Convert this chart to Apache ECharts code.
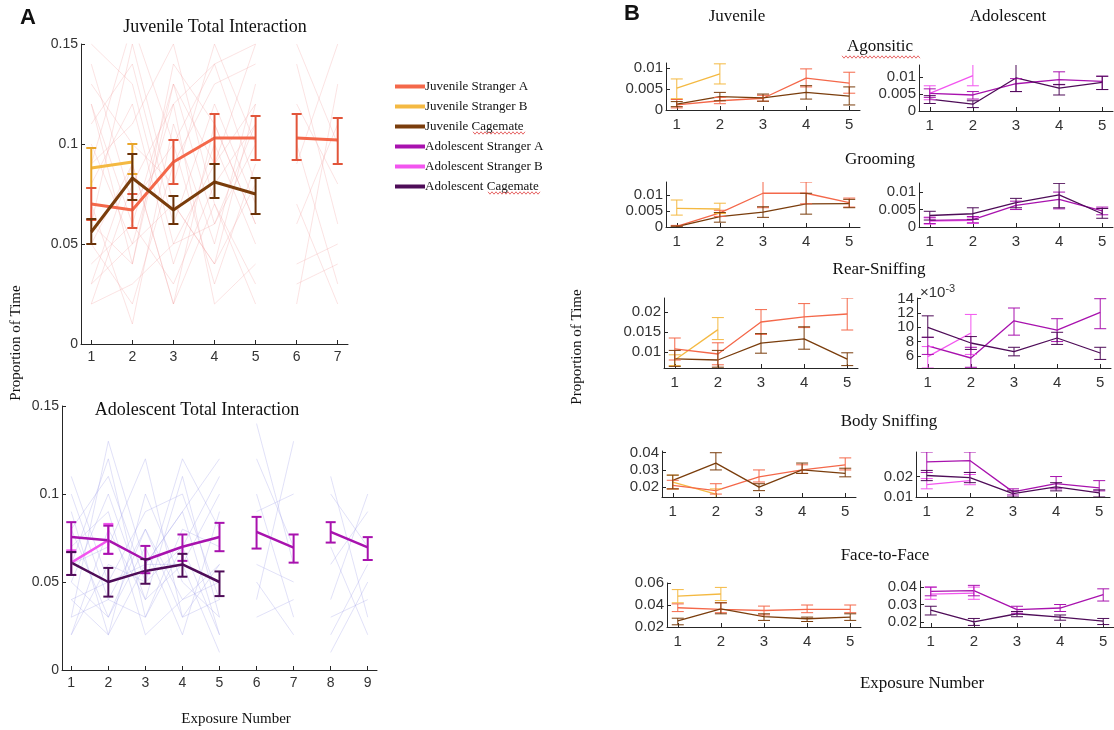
<!DOCTYPE html>
<html><head><meta charset="utf-8">
<script src="https://cdn.jsdelivr.net/npm/echarts@6/dist/echarts.min.js"></script>
<style>html,body{margin:0;padding:0;background:#fff}#c{width:1114px;height:730px}</style>
</head><body><div id="c"></div><script>
// ---------- Panel A data ----------
const juvExposures = [1,2,3,4,5,6,7];
const juvStrA   = [0.070,0.067,0.091,0.103,0.103,0.103,0.102];
const juvStrALo = [0.062,0.058,0.080,0.090,0.092,0.092,0.090];
const juvStrAHi = [0.078,0.075,0.102,0.115,0.114,0.115,0.113];
const juvStrB   = [0.088,0.091];
const juvStrBLo = [0.078,0.085];
const juvStrBHi = [0.098,0.100];
const juvCage   = [0.056,0.083,0.067,0.081,0.075];
const juvCageLo = [0.050,0.072,0.060,0.073,0.065];
const juvCageHi = [0.0625,0.095,0.074,0.090,0.083];
const juvIndiv15 = [
 [0.12,0.04,0.13,0.09,0.15],[0.03,0.09,0.02,0.11,0.06],[0.06,0.15,0.07,0.04,0.12],
 [0.10,0.05,0.12,0.14,0.08],[0.02,0.03,0.05,0.06,0.10],[0.08,0.12,0.04,0.10,0.05],
 [0.14,0.07,0.10,0.03,0.09],[0.05,0.02,0.09,0.13,0.14],[0.09,0.11,0.15,0.07,0.03],
 [0.04,0.06,0.03,0.08,0.11],[0.11,0.14,0.06,0.12,0.07],[0.07,0.01,0.11,0.05,0.13],
 [0.13,0.10,0.08,0.15,0.10],[0.02,0.08,0.12,0.02,0.04],[0.06,0.04,0.14,0.11,0.06],
 [0.15,0.13,0.05,0.09,0.12],[0.03,0.05,0.07,0.04,0.08],[0.09,0.16,0.10,0.14,0.15],
 [0.05,0.09,0.02,0.07,0.02],[0.12,0.06,0.13,0.06,0.11]];
const juvIndiv67 = [[0.14,0.06],[0.02,0.13],[0.10,0.03],[0.06,0.11],[0.12,0.08],[0.04,0.05],[0.15,0.10],[0.03,0.04],[0.09,0.15],[0.07,0.02]];

const adoExposures = [1,2,3,4,5,6,7,8,9];
const adoStrA   = [0.0756,0.0737,0.0625,0.070,0.0756,0.0785,0.0695,0.0785,0.0697];
const adoStrALo = [0.067,0.066,0.055,0.062,0.0675,0.069,0.061,0.0724,0.0625];
const adoStrAHi = [0.084,0.082,0.0705,0.077,0.0836,0.087,0.077,0.084,0.0755];
const adoStrB   = [0.061,0.0737];
const adoStrBLo = [0.054,0.066];
const adoStrBHi = [0.068,0.083];
const adoCage   = [0.061,0.050,0.0563,0.060,0.050];
const adoCageLo = [0.054,0.0417,0.049,0.053,0.042];
const adoCageHi = [0.067,0.058,0.063,0.066,0.056];
const adoIndiv15 = [
 [0.10,0.04,0.08,0.03,0.06],[0.03,0.13,0.06,0.09,0.02],[0.06,0.12,0.03,0.07,0.11],
 [0.09,0.02,0.10,0.05,0.03],[0.02,0.06,0.05,0.12,0.08],[0.07,0.09,0.02,0.04,0.05],
 [0.04,0.05,0.09,0.10,0.04],[0.08,0.03,0.07,0.02,0.09],[0.05,0.10,0.04,0.06,0.01],
 [0.03,0.04,0.03,0.08,0.07],[0.06,0.07,0.12,0.03,0.04],[0.11,0.05,0.06,0.06,0.10],
 [0.02,0.08,0.04,0.11,0.03],[0.05,0.03,0.08,0.04,0.06],[0.08,0.11,0.05,0.07,0.02],
 [0.04,0.02,0.06,0.09,0.12]];
const adoIndiv67 = [[0.12,0.07],[0.04,0.13],[0.10,0.03],[0.06,0.05],[0.03,0.04],[0.09,0.10],[0.05,0.02],[0.14,0.06]];
const adoIndiv89 = [[0.11,0.03],[0.04,0.10],[0.02,0.06],[0.07,0.02],[0.10,0.07],[0.03,0.04],[0.06,0.09],[0.01,0.05]];

// ---------- Panel B data: [mean, lower, upper] per exposure ----------
const bExposures = [1,2,3,4,5];
const agoJuvStrA = [[0.0012,0.0005,0.0025],[0.0022,0.0015,0.0030],[0.0028,0.0021,0.0035],[0.0076,0.0055,0.0098],[0.0064,0.0040,0.0090]];
const agoJuvStrB = [[0.0052,0.0027,0.0074],[0.0086,0.0062,0.0110]];
const agoJuvCage = [[0.0014,0.0008,0.0020],[0.0032,0.0022,0.0042],[0.0029,0.0021,0.0038],[0.0042,0.0026,0.0058],[0.0033,0.0012,0.0055]];
const agoAdoStrA = [[0.0052,0.0040,0.0065],[0.0047,0.0035,0.0057],[0.0080,0.0057,0.0095],[0.0092,0.0077,0.0115],[0.0087,0.0063,0.0102]];
const agoAdoStrB = [[0.0052,0.0033,0.0074],[0.0104,0.0074,0.0137]];
const agoAdoCage = [[0.0035,0.0022,0.0045],[0.0020,0.0010,0.0030],[0.0097,0.0057,0.0138],[0.0067,0.0047,0.0078],[0.0084,0.0063,0.0102]];

const groJuvStrA = [[0.0002,0,0.0005],[0.0044,0.0033,0.0052],[0.0105,0.0060,0.0146],[0.0105,0.0072,0.0140],[0.0076,0.0062,0.0090]];
const groJuvStrB = [[0.0058,0.0037,0.0084],[0.0056,0.0042,0.0074]];
const groJuvCage = [[0.0001,0,0.0003],[0.0032,0.0015,0.0045],[0.0046,0.0030,0.0063],[0.0072,0.0040,0.0105],[0.0073,0.0060,0.0086]];
const groAdoStrA = [[0.0019,0.0010,0.0028],[0.0021,0.0012,0.0030],[0.0062,0.0050,0.0074],[0.0079,0.0052,0.0100],[0.0046,0.0035,0.0057]];
const groAdoStrB = [[0.0017,0.0008,0.0026],[0.0019,0.0010,0.0028]];
const groAdoCage = [[0.0033,0.0020,0.0045],[0.0038,0.0022,0.0055],[0.0070,0.0055,0.0082],[0.0092,0.0055,0.0125],[0.0038,0.0025,0.0053]];

const rsJuvStrA = [[0.0108,0.0080,0.0135],[0.0095,0.0068,0.0123],[0.0175,0.0144,0.0206],[0.0188,0.0161,0.0221],[0.0195,0.0155,0.0235]];
const rsJuvStrB = [[0.0080,0.0066,0.0093],[0.0156,0.0131,0.0186]];
const rsJuvCage = [[0.0083,0.0064,0.0104],[0.0080,0.0062,0.0104],[0.0122,0.0097,0.0146],[0.0133,0.0107,0.0163],[0.0082,0.0066,0.0098]];
const rsAdoStrA = [[0.0074,0.0062,0.0086],[0.0057,0.0044,0.0072],[0.0109,0.0089,0.0127],[0.0096,0.0080,0.0112],[0.0121,0.0098,0.0140]];
const rsAdoStrB = [[0.0059,0.0043,0.0073],[0.0092,0.0062,0.0118]];
const rsAdoCage = [[0.0100,0.0086,0.0116],[0.0078,0.0069,0.0087],[0.0066,0.0060,0.0072],[0.0085,0.0076,0.0093],[0.0064,0.0055,0.0072]];

const bsJuvStrA = [[0.021,0.019,0.024],[0.018,0.016,0.022],[0.026,0.023,0.030],[0.030,0.028,0.033],[0.033,0.030,0.037]];
const bsJuvStrB = [[0.023,0.019,0.027],[0.016,0.014,0.019]];
const bsJuvCage = [[0.024,0.019,0.027],[0.034,0.030,0.040],[0.020,0.018,0.022],[0.030,0.028,0.034],[0.028,0.026,0.031]];
const bsAdoStrA = [[0.0272,0.022,0.032],[0.0278,0.022,0.032],[0.0125,0.011,0.014],[0.0165,0.014,0.020],[0.0145,0.013,0.018]];
const bsAdoStrB = [[0.0160,0.0140,0.0190],[0.0180,0.0160,0.0210]];
const bsAdoCage = [[0.0205,0.018,0.023],[0.0195,0.017,0.022],[0.0117,0.010,0.013],[0.0150,0.013,0.017],[0.0120,0.010,0.0135]];

const ffJuvStrA = [[0.0375,0.034,0.041],[0.036,0.033,0.042],[0.035,0.031,0.039],[0.036,0.033,0.040],[0.036,0.033,0.040]];
const ffJuvStrB = [[0.048,0.042,0.054],[0.050,0.044,0.056]];
const ffJuvCage = [[0.0255,0.022,0.028],[0.0365,0.032,0.042],[0.0295,0.026,0.032],[0.0275,0.025,0.029],[0.029,0.026,0.032]];
const ffAdoStrA = [[0.0376,0.035,0.040],[0.038,0.035,0.041],[0.0271,0.025,0.029],[0.028,0.026,0.030],[0.0357,0.032,0.039]];
const ffAdoStrB = [[0.036,0.033,0.040],[0.0365,0.033,0.040]];
const ffAdoCage = [[0.0268,0.024,0.029],[0.020,0.018,0.022],[0.0247,0.023,0.026],[0.0228,0.021,0.024],[0.0205,0.0185,0.022]];

const groupNames = ['Juvenile Stranger A','Juvenile Stranger B','Juvenile Cagemate','Adolescent Stranger A','Adolescent Stranger B','Adolescent Cagemate'];
const behaviorNames = ['Agonsitic','Grooming','Rear-Sniffing','Body Sniffing','Face-to-Face'];

// ---------- styles ----------
const COL = ['#f4684a','#f4b942','#7a3d0c','#a812ae','#f255ef','#4e0c58'];
const SANS = 'Liberation Sans, Arial, sans-serif';
const SERIF = 'Liberation Serif, Times New Roman, serif';
const AX = '#262626';

const grids=[], xAxes=[], yAxes=[], series=[];
const fmtNum = v => String(parseFloat(v.toFixed(5)));
function yAxisCfg(gi, yr, yt, fs, yfmt, showLine){
  return {type:'value', gridIndex:gi, min:yr[0], max:yr[1], position:'left', offset:0,
    axisLine:{show:showLine,onZero:false,lineStyle:{color:AX,width:1}},
    axisTick:{show:true,inside:true,length:4,customValues:yt,lineStyle:{color:AX}},
    axisLabel:{show:true,customValues:yt,color:'#333',fontSize:fs,fontFamily:SANS,margin:3,formatter:yfmt||fmtNum,
      hideOverlap:false,showMinLabel:true,showMaxLabel:true},
    splitLine:{show:false}};
}
function panel(left, top, width, height, xr, xt, yr, yt, fs, yfmt){
  const gi = grids.length;
  grids.push({left, top, width, height});
  xAxes.push({type:'value', gridIndex:gi, min:xr[0], max:xr[1],
    axisLine:{show:true,onZero:false,lineStyle:{color:AX,width:1}},
    axisTick:{show:true,inside:true,length:4,customValues:xt,lineStyle:{color:AX}},
    axisLabel:{show:true,customValues:xt,color:'#333',fontSize:fs,fontFamily:SANS,margin:fs>14?7:6,
      hideOverlap:false,showMinLabel:true,showMaxLabel:true},
    splitLine:{show:false}});
  yAxes.push(yAxisCfg(gi, yr, yt, fs, yfmt, true));
  return gi;
}
function lineS(gi, name, xs, ys, color, width, z, opacity){
  const s = {type:'line', xAxisIndex:gi, yAxisIndex:gi, data:xs.map((x,i)=>[x,ys[i]]),
    symbol:'none', showSymbol:false, silent:true, animation:false, z:z,
    lineStyle:{color, width, opacity: opacity==null?1:opacity}, itemStyle:{color}};
  if (name) s.name = name;
  series.push(s);
}
function errS(gi, xs, lo, hi, color, half, lw, z){
  series.push({type:'custom', xAxisIndex:gi, yAxisIndex:gi, clip:true, z:z, silent:true, animation:false,
    data: xs.map((x,i)=>[x, lo[i], hi[i]]), encode:{x:0, y:[1,2]},
    renderItem:(p, api)=>{
      const x = api.value(0), a = api.coord([x, api.value(1)]), b = api.coord([x, api.value(2)]);
      const st = {stroke:color, lineWidth:lw};
      return {type:'group', children:[
        {type:'line', shape:{x1:a[0],y1:a[1],x2:b[0],y2:b[1]}, style:st},
        {type:'line', shape:{x1:a[0]-half,y1:a[1],x2:a[0]+half,y2:a[1]}, style:st},
        {type:'line', shape:{x1:b[0]-half,y1:b[1],x2:b[0]+half,y2:b[1]}, style:st}]};
    }});
}

// ---------- Panel A ----------
const gA1 = panel(81, 44, 267, 300, [0.75,7.25], juvExposures, [0,0.15], [0,0.05,0.1,0.15], 14);
juvIndiv15.forEach(r=>lineS(gA1, null, juvExposures.slice(0,5), r, '#f3a3a3', 1, 1, 0.3));
juvIndiv67.forEach(r=>lineS(gA1, null, juvExposures.slice(5,7), r, '#f3a3a3', 1, 1, 0.3));
lineS(gA1, groupNames[1], juvExposures.slice(0,2), juvStrB, COL[1], 3, 5);
lineS(gA1, groupNames[0], juvExposures.slice(0,5), juvStrA.slice(0,5), COL[0], 3, 5);
lineS(gA1, groupNames[0], juvExposures.slice(5,7), juvStrA.slice(5,7), COL[0], 3, 5);
lineS(gA1, groupNames[2], juvExposures.slice(0,5), juvCage, COL[2], 3, 6);
errS(gA1, juvExposures.slice(0,2), juvStrBLo, juvStrBHi, '#e8a52a', 5, 2, 7);
errS(gA1, juvExposures, juvStrALo, juvStrAHi, '#e2553a', 5, 2, 7);
errS(gA1, juvExposures.slice(0,5), juvCageLo, juvCageHi, '#6a3208', 5, 2, 8);

const gA2 = panel(62, 406, 315, 264, [0.75,9.25], adoExposures, [0,0.15], [0,0.05,0.1,0.15], 14);
adoIndiv15.forEach(r=>lineS(gA2, null, adoExposures.slice(0,5), r, '#a9a9ec', 1, 1, 0.35));
adoIndiv67.forEach(r=>lineS(gA2, null, adoExposures.slice(5,7), r, '#a9a9ec', 1, 1, 0.35));
adoIndiv89.forEach(r=>lineS(gA2, null, adoExposures.slice(7,9), r, '#a9a9ec', 1, 1, 0.35));
lineS(gA2, groupNames[4], adoExposures.slice(0,2), adoStrB, COL[4], 2.5, 5);
lineS(gA2, groupNames[3], adoExposures.slice(0,5), adoStrA.slice(0,5), COL[3], 2.5, 5);
lineS(gA2, groupNames[3], adoExposures.slice(5,7), adoStrA.slice(5,7), COL[3], 2.5, 5);
lineS(gA2, groupNames[3], adoExposures.slice(7,9), adoStrA.slice(7,9), COL[3], 2.5, 5);
lineS(gA2, groupNames[5], adoExposures.slice(0,5), adoCage, COL[5], 2.5, 6);
errS(gA2, adoExposures.slice(0,2), adoStrBLo, adoStrBHi, COL[4], 5, 2, 7);
errS(gA2, adoExposures, adoStrALo, adoStrAHi, COL[3], 5, 2, 7);
errS(gA2, adoExposures.slice(0,5), adoCageLo, adoCageHi, COL[5], 5, 2, 8);

// ---------- Panel B ----------
const juvSets = [[agoJuvStrA,agoJuvStrB,agoJuvCage],[groJuvStrA,groJuvStrB,groJuvCage],[rsJuvStrA,rsJuvStrB,rsJuvCage],[bsJuvStrA,bsJuvStrB,bsJuvCage],[ffJuvStrA,ffJuvStrB,ffJuvCage]];
const adoSets = [[agoAdoStrA,agoAdoStrB,agoAdoCage],[groAdoStrA,groAdoStrB,groAdoCage],[rsAdoStrA,rsAdoStrB,rsAdoCage],[bsAdoStrA,bsAdoStrB,bsAdoCage],[ffAdoStrA,ffAdoStrB,ffAdoCage]];
const juvLayout = [[666,63,194,47],[666,182,194,45],[664,298,194,70],[662,451,194,46],[667,583,194,44]];
const adoLayout = [[919,65,194,46],[919,183,194,44],[917,298,194,70],[916,452,194,45],[920,581,194,46]];
const juvRanges = [[0,0.0112],[0,0.014],[0.006,0.0235],[0.0143,0.041],[0.02,0.06]];
const adoRanges = [[0,0.0135],[0,0.0126],[0.0043,0.0141],[0.01,0.032],[0.0171,0.0435]];
const juvTicks = [[0,0.005,0.01],[0,0.005,0.01],[0.01,0.015,0.02],[0.02,0.03,0.04],[0.02,0.04,0.06]];
const adoTicks = [[0,0.005,0.01],[0,0.005,0.01],[0.006,0.010,0.014],[0.01,0.02],[0.02,0.03,0.04]];
const rsAdoExtraTicks = [0.008,0.012];
const milli = v => String(Math.round(v*1000));

function drawB(gi, sets, cols, names){
  const order = [1,0,2];
  order.forEach(k=>{
    const d = sets[k], xs = bExposures.slice(0,d.length);
    lineS(gi, names[k], xs, d.map(t=>t[0]), cols[k], 1.3, 5);
  });
  order.forEach(k=>{
    const d = sets[k], xs = bExposures.slice(0,d.length);
    errS(gi, xs, d.map(t=>t[1]), d.map(t=>t[2]), cols[k], 6, 1, 7);
  });
}
let rsAdoGrid = -1;
for (let r=0;r<5;r++){
  const L = juvLayout[r];
  const gj = panel(L[0],L[1],L[2],L[3],[0.75,5.25],bExposures,juvRanges[r],juvTicks[r],15);
  drawB(gj, juvSets[r], COL.slice(0,3), groupNames.slice(0,3));
  const M = adoLayout[r];
  const ga = panel(M[0],M[1],M[2],M[3],[0.75,5.25],bExposures,adoRanges[r],adoTicks[r],15, r===2?milli:null);
  if (r===2) rsAdoGrid = ga;
  drawB(ga, adoSets[r], COL.slice(3,6), groupNames.slice(3,6));
}
// second label layer for the crowded ×10^-3 axis (MATLAB draws overlapping labels)
yAxes.push(yAxisCfg(rsAdoGrid, adoRanges[2], rsAdoExtraTicks, 15, milli, false));

// ---------- texts ----------
function txt(text, x, y, font, opts){
  return Object.assign({type:'text', x, y, silent:true, z:50,
    style:{text, font, fill:'#111', align:'center', verticalAlign:'middle'}}, opts||{});
}
const rowTitleY = [47,160,270,422,556];
const rowTitleX = [880,880,879,889,885];
const graphics = [
  txt('A', 28, 18, 'bold 22px '+SANS),
  txt('B', 632, 14, 'bold 22px '+SANS),
  txt('Juvenile Total Interaction', 215, 27, '18px '+SERIF),
  txt('Adolescent Total Interaction', 197, 410, '18px '+SERIF),
  txt('Proportion of Time', 16, 343, '15px '+SERIF, {rotation:Math.PI/2}),
  txt('Exposure Number', 236, 719, '15px '+SERIF),
  txt('Juvenile', 737, 17, '17px '+SERIF),
  txt('Adolescent', 1008, 17, '17px '+SERIF),
  txt('Proportion of Time', 577, 347, '15px '+SERIF, {rotation:Math.PI/2}),
  txt('Exposure Number', 922, 684, '17px '+SERIF),
  {type:'text', x:920, y:293, silent:true, z:50, style:{text:'×10{s|-3}', font:'15px '+SANS, fill:'#333', verticalAlign:'middle', rich:{s:{fontSize:11, fontFamily:SANS, fill:'#333', padding:[0,0,8,0]}}}}
];
behaviorNames.forEach((b,i)=>graphics.push(txt(b, rowTitleX[i], rowTitleY[i], '17px '+SERIF)));
function squiggle(x0, x1, y){
  const pts=[]; let k=0;
  for (let x=x0; x<=x1; x+=2, k++) pts.push([x, y + (k%2?1.2:-1.2)]);
  return {type:'polyline', silent:true, z:50, shape:{points:pts}, style:{stroke:'#e04040', lineWidth:0.8, fill:null}};
}
graphics.push(squiggle(842, 920, 57));
graphics.push(squiggle(473, 525, 133));
graphics.push(squiggle(488, 540, 193));

const chart = echarts.init(document.getElementById('c'), null, {renderer:'canvas'});
chart.setOption({
  animation:false, backgroundColor:'#fff',
  grid:grids, xAxis:xAxes, yAxis:yAxes, series:series, graphic:graphics,
  legend:{show:true, left:390, top:75, orient:'vertical', itemWidth:30, itemHeight:4, itemGap:7, icon:'rect',
    selectedMode:false, data:groupNames,
    textStyle:{fontFamily:SERIF, fontSize:13, color:'#111', padding:[0,0,0,-5]}}
});
</script></body></html>
